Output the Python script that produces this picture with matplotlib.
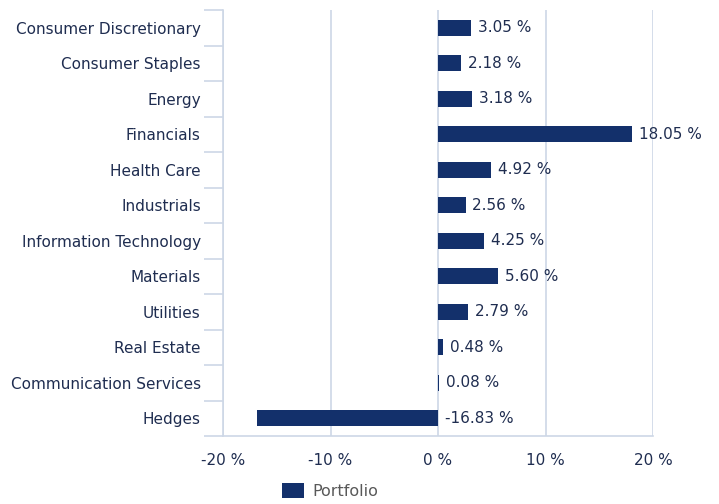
import matplotlib
matplotlib.use("Agg")
import matplotlib.pyplot as plt
import numpy as np

categories = ["Consumer Discretionary", "Consumer Staples", "Energy", "Financials",
              "Health Care", "Industrials", "Information Technology", "Materials",
              "Utilities", "Real Estate", "Communication Services", "Hedges"]
portfolio = [3.05, 2.18, 3.18, 18.05, 4.92, 2.56, 4.25, 5.60, 2.79, 0.48, 0.08, -16.83]
xticks = [-20, -10, 0, 10, 20]

bar_color = "#13306b"
text_color = "#1f2d50"
grid_color = "#cdd7e6"

plt.rcParams['font.family'] = ['DejaVu Sans']

fig = plt.figure(figsize=(7.19, 5.04), dpi=100)
ax = fig.add_axes([223 / 719, 1 - 436 / 504, 430 / 719, 426 / 504])

y = np.arange(len(categories))
ax.barh(y, portfolio, height=0.45, color=bar_color, zorder=3, label="Portfolio")
ax.set_ylim(len(categories) - 0.5, -0.5)
ax.set_xlim(-20, 20)

for yi, v in zip(y, portfolio):
    ax.annotate(f"{v:.2f} %", (max(v, 0), yi), xytext=(5, 0), textcoords="offset points",
                va="center", ha="left", fontsize=11, color=text_color, zorder=4)

ax.set_yticks(y)
ax.set_yticklabels(categories, fontsize=11, color=text_color)
ax.set_yticks(np.arange(-0.5, len(categories)), minor=True)
ax.tick_params(axis="y", which="major", length=0, pad=16)
ax.tick_params(axis="y", which="minor", length=14, color=grid_color, width=1.2)

ax.set_xticks(xticks)
ax.set_xticklabels([f"{t} %" for t in xticks], fontsize=11, color=text_color)
ax.tick_params(axis="x", length=0, pad=12)
ax.grid(axis="x", color=grid_color, linewidth=1.2, zorder=0)

for s in ["top", "right"]:
    ax.spines[s].set_visible(False)
for s in ["left", "bottom"]:
    ax.spines[s].set_color(grid_color)
    ax.spines[s].set_linewidth(1.2)

leg = fig.legend(loc="center", bbox_to_anchor=(330 / 719, 1 - 491 / 504), frameon=False,
                 fontsize=11.5, handlelength=1.4, handleheight=1.1, handletextpad=0.5)
for t in leg.get_texts():
    t.set_color("#595959")

fig.savefig("out.png", dpi=100)
